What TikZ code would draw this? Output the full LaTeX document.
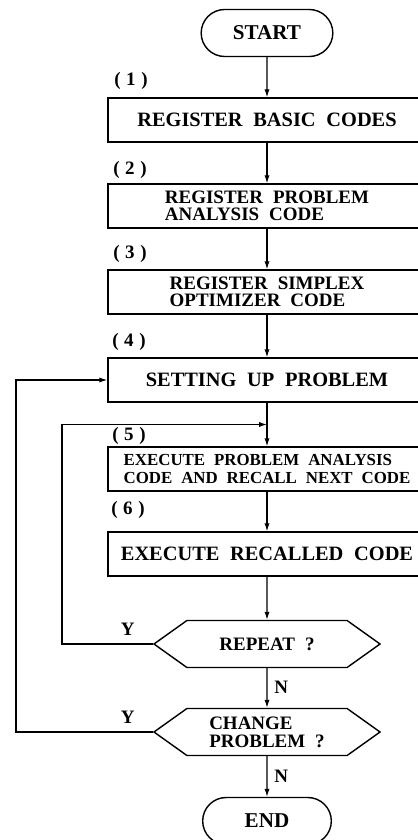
\documentclass[tikz,border=0pt]{standalone}
\usepackage{fontspec}
\setmainfont{Liberation Serif}[WordSpace=2.1]
\usetikzlibrary{calc,shapes.misc,shapes.symbols,arrows.meta}
\def\drawflow{\draw[line width=0.8pt,-{Latex[length=2mm,width=1.3mm]}]}
\def\stepnode{\node[draw,line width=1pt,minimum width=7.95cm,minimum height=1.1cm,inner sep=0pt,font=\bfseries\fontsize{14.5}{14}\selectfont]}
\def\endnode{\node[draw,rounded rectangle,line width=1pt,minimum height=1.175cm,font=\bfseries\fontsize{15}{14}\selectfont]}
\def\asknode{\node[draw,signal,signal to=west and east,signal pointer angle=71,line width=1pt,minimum width=5.65cm,minimum height=1.175cm,inner sep=0pt,align=left,font=\bfseries\fontsize{13.5}{13}\selectfont]}
\def\tagnode{\node[inner sep=0pt,font=\bfseries\fontsize{13.5}{13.5}\selectfont]}

\begin{document}
\begin{tikzpicture}[x=0.025cm,y=-0.025cm]
\useasboundingbox (0,0) rectangle (418,840);
\clip (0,0) rectangle (418,840);
\coordinate (o) at (267,0); % every step hangs below (o)

\endnode[minimum width=3.525cm] (start) at ($ (o) + (0,33) $) {START};

% Registration steps
\stepnode[align=left,font=\bfseries\fontsize{13.5}{12.5}\selectfont] (box2) at ($ (o) + (0,206) $) {REGISTER PROBLEM\\ANALYSIS CODE};
\stepnode (box1) at ($ (o) + (0,120) $) {REGISTER BASIC CODES};
\stepnode[align=left,font=\bfseries\fontsize{13.5}{12.5}\selectfont] (box3) at ($ (o) + (0,292) $) {REGISTER SIMPLEX\\OPTIMIZER CODE};
\stepnode (box4) at ($ (o) + (0,380) $) {SETTING UP PROBLEM};
\stepnode[align=left,font=\bfseries\fontsize{12}{12.5}\selectfont] (box5) at ($ (o) + (0,469) $) {EXECUTE PROBLEM ANALYSIS\\CODE AND RECALL NEXT CODE};
\stepnode (box6) at ($ (o) + (0,554) $) {EXECUTE RECALLED CODE};

\tagnode[anchor=west] (n1) at (114,81) {(\hspace{4pt}1\hspace{4pt})};
\tagnode[anchor=west] (n2) at (113,170) {(\hspace{4pt}2\hspace{4pt})};
\tagnode[anchor=west] (n3) at (113,254) {(\hspace{4pt}3\hspace{4pt})};
\tagnode[anchor=west] (n4) at (112,342) {(\hspace{4pt}4\hspace{4pt})};
\tagnode[anchor=west] (n5) at (112,436) {(\hspace{4pt}5\hspace{4pt})};
\tagnode[anchor=west] (n6) at (111,510) {(\hspace{4pt}6\hspace{4pt})};

% Decisions and end
\asknode (rep) at ($ (o) + (0,644) $) {REPEAT ?};
\asknode (chg) at ($ (o) + (0,732) $) {CHANGE\\PROBLEM ?};
\endnode[minimum width=3.45cm] (end) at ($ (o) + (0,821) $) {END};

\drawflow (start) -- (box1);
\drawflow (box1) -- (box2);
\drawflow (box2) -- (box3);
\drawflow (box3) -- (box4);
\drawflow (box4) -- (box5);
\drawflow (box5) -- (box6);
\drawflow (box6) -- (rep);
\drawflow (rep) -- (chg);
\drawflow (chg) -- (end);

% Loops back up the left side
\coordinate (j5) at ($ (box4.south)!0.5!(box5.north) $);
\coordinate (loop_in) at (62,0);
\coordinate (loop_out) at (16,0);
\drawflow (rep.west) -| (loop_in |- j5) -- (j5);
\drawflow (chg.west) -| (loop_out |- box4.west) -- (box4.west);

\tagnode (yrep) at ($ (rep.west) + (-25,-15) $) {Y};
\tagnode (ychg) at ($ (chg.west) + (-25,-15) $) {Y};
\tagnode[anchor=west] (nrep) at ($ (rep.south) + (7,19) $) {N};
\tagnode[anchor=west] (nchg) at ($ (chg.south) + (7,20) $) {N};
\end{tikzpicture}
\end{document}
